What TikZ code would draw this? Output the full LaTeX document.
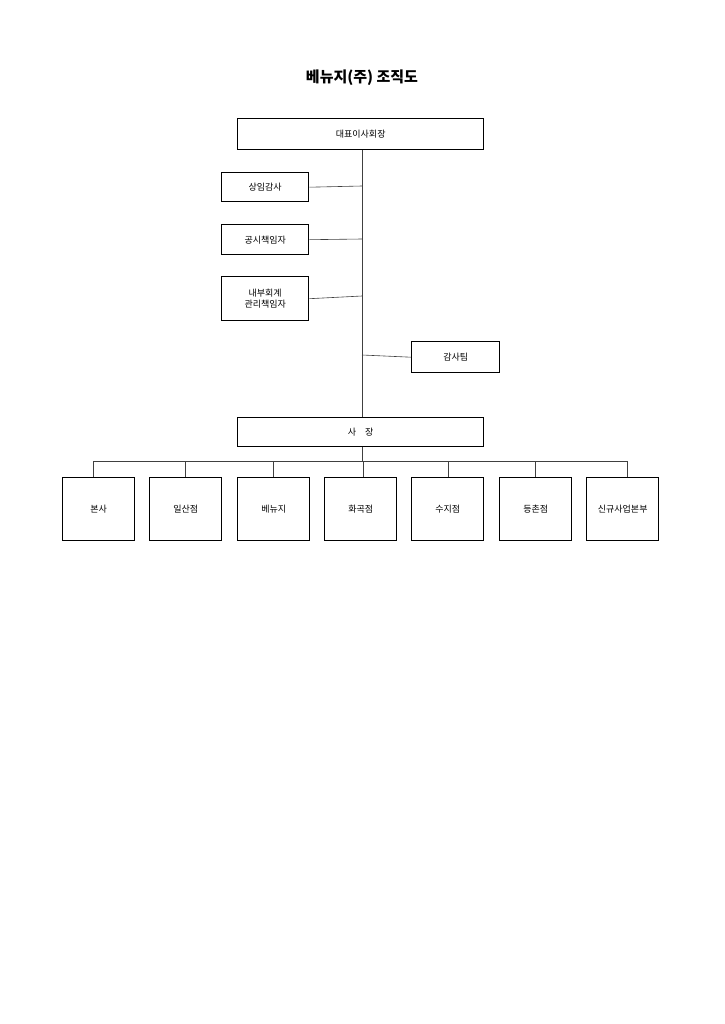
\documentclass[tikz,border=0pt]{standalone}
\usepackage{fontspec}
\newfontfamily\kr{Noto Sans CJK KR}
\begin{document}
\begin{tikzpicture}[x=1pt,y=-1pt,
  bx/.style={draw, line width=1.4pt, fill=white, inner sep=0pt, anchor=north west, font=\kr\fontsize{9}{11}\selectfont, align=center},
  ln/.style={draw=black!75, line width=0.6pt}]
\useasboundingbox (0,0) rectangle (724,1024);
\node (title) at (362,78) {\kr\bfseries\fontsize{15}{18}\selectfont 베뉴지(주) 조직도};
\node[bx, minimum width=246pt, minimum height=31pt] (ceo) at (237,118) {대표이사회장};
\node[bx, minimum width=87pt, minimum height=29pt] (a1) at (221,172) {상임감사};
\node[bx, minimum width=87pt, minimum height=30pt] (a2) at (221,224) {공시책임자};
\node[bx, minimum width=87pt, minimum height=44pt] (a3) at (221,276) {내부회계\\관리책임자};
\node[bx, minimum width=88pt, minimum height=31pt] (team) at (411,341) {감사팀};
\node[bx, minimum width=246pt, minimum height=29pt] (pres) at (237,417) {사\hspace{1em}장};
\foreach \n/\x/\t in {b1/62/본사, b2/149/일산점, b3/237/베뉴지, b4/324/화곡점, b5/411/수지점, b6/499/등촌점, b7/586/신규사업본부}
  \node[bx, minimum width=72pt, minimum height=63pt] (\n) at (\x,477) {\t};
\coordinate (j1) at (362,186);
\coordinate (j2) at (362,239);
\coordinate (j3) at (362,296);
\coordinate (j4) at (362,355);
\coordinate (h) at (362,461);
\draw[ln] (ceo.south -| j1) -- (pres.north -| j1);
\draw[ln] (a1.east) -- (j1);
\draw[ln] (a2.east) -- (j2);
\draw[ln] (a3.east) -- (j3);
\draw[ln] (j4) -- (team.west);
\draw[ln] (pres.south -| h) -- (h);
\draw[ln] (93,461) -- (627,461);
\foreach \n/\x in {b1/93, b2/185, b3/273, b4/363, b5/448, b6/535, b7/627}
  \draw[ln] (\x,461) -- (\n.north -| {(\x,0)});
\end{tikzpicture}
\end{document}
